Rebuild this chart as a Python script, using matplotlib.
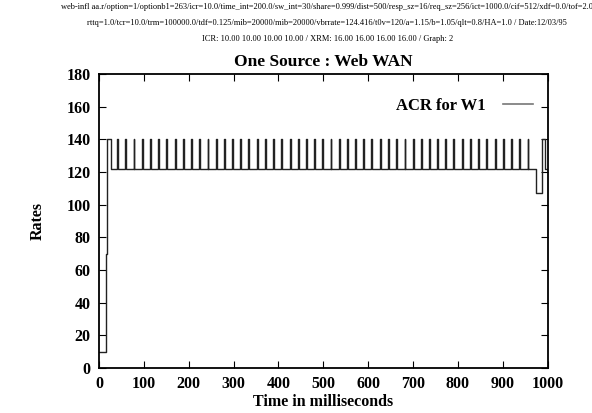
import matplotlib
matplotlib.use("Agg")
import matplotlib.pyplot as plt

plt.rcParams["font.family"] = ["Liberation Serif", "DejaVu Serif"]

# start-up: (time ms, rate) corners of the ramp before the periodic pattern
ramp_times = [0, 15, 17, 27]
ramp_rates = [10, 70, 140, 122]

# times (ms) where ACR pulses from the base level up to the peak
pulse_times = [41, 59, 77, 96, 114, 132, 150, 169, 187, 205, 224, 242, 260,
               278, 297, 315, 333, 352, 370, 388, 406, 425, 443, 461, 480,
               498, 516, 534, 553, 571, 589, 607, 626, 644, 662, 681, 699,
               717, 735, 754, 772, 790, 809, 827, 845, 863, 882, 900, 918,
               937, 955]
pulse_width = 2.0
base_rate = 122
peak_rate = 140

# tail of the run: (time ms, rate)
tail_times = [974, 987, 995, 1000]
tail_rates = [107, 140, 122, 122]

header = [
    "web-infl aa.r/option=1/optionb1=263/icr=10.0/time_int=200.0/sw_int=30/share=0.999/dist=500/resp_sz=16/req_sz=256/ict=1000.0/cif=512/xdf=0.0/tof=2.0",
    "rttq=1.0/tcr=10.0/trm=100000.0/tdf=0.125/mib=20000/mib=20000/vbrrate=124.416/t0v=120/a=1.15/b=1.05/qlt=0.8/HA=1.0 / Date:12/03/95",
    "ICR: 10.00 10.00 10.00 10.00 / XRM: 16.00 16.00 16.00 16.00 / Graph: 2",
]

# build the step series
t = list(ramp_times)
r = list(ramp_rates)
for p in pulse_times:
    t += [p, p + pulse_width]
    r += [peak_rate, base_rate]
t += tail_times
r += tail_rates

fig = plt.figure(figsize=(5.92, 4.13), dpi=100)
ax = fig.add_axes([0.1672, 0.1090, 0.7580, 0.7118])

ax.step(t, r, where="post", color="#222222", lw=1.0, label="ACR for W1")

ax.set_xlim(0, 1000)
ax.set_ylim(0, 180)
ax.set_xticks(range(0, 1001, 100))
ax.set_yticks(range(0, 181, 20))
ax.tick_params(direction="in", top=True, right=True, length=5, width=0.8,
               labelsize=11.5, pad=6)
for lab in ax.get_xticklabels() + ax.get_yticklabels():
    lab.set_fontweight("bold")
for s in ax.spines.values():
    s.set_linewidth(1.3)

ax.set_title("One Source : Web WAN", fontsize=12.5, fontweight="bold", pad=6)
ax.set_xlabel("Time in milliseconds", fontsize=11.5, fontweight="bold", labelpad=1)
ax.set_ylabel("Rates", fontsize=11.5, fontweight="bold", labelpad=15)

leg = ax.legend(loc="upper right", frameon=False, markerfirst=False,
                prop={"weight": "bold", "size": 12}, handlelength=1.8,
                handletextpad=1.0, bbox_to_anchor=(1.0, 0.97))
for h in leg.get_lines():
    h.set_color("#777777")
    h.set_linewidth(1.2)

for i, line in enumerate(header):
    fig.text(0.553, 1 - (7 + 16 * i) / 413, line, ha="center", va="center",
             fontsize=6.05)

fig.savefig("out.png", dpi=100)
